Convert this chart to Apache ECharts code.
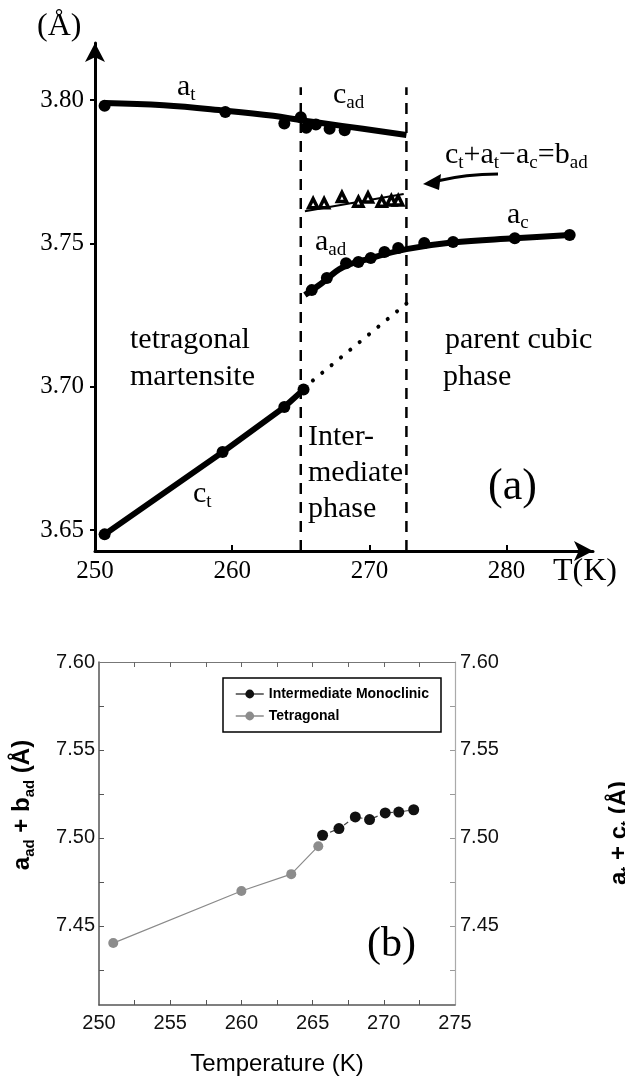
<!DOCTYPE html>
<html>
<head>
<meta charset="utf-8">
<script src="https://cdn.jsdelivr.net/npm/echarts@6/dist/echarts.min.js"></script>
<style>
  html, body { margin: 0; padding: 0; background: #fff; }
  #chart { width: 625px; height: 1087px; }
</style>
</head>
<body>
<div id="chart"></div>
<script>
const SERIF = '"Liberation Serif", "Times New Roman", serif';
const SANS = '"Liberation Sans", Arial, sans-serif';

// ---------- panel (a): lattice parameters vs T ----------
const aTicksX = [250, 260, 270, 280];
const aTicksY = [3.65, 3.70, 3.75, 3.80];

const atT = [250.7, 259.5, 263.8, 265.0];
const atV = [3.798, 3.7958, 3.7918, 3.794];
const cadT = [265.4, 266.1, 267.1, 268.2];
const cadV = [3.7903, 3.7915, 3.790, 3.7895];
const topFitT = [250.7, 255, 259.5, 263, 265, 268, 272.7];
const topFitV = [3.799, 3.7982, 3.7963, 3.7945, 3.793, 3.791, 3.7878];

const badT = [265.9, 266.7, 268.0, 269.2, 269.9, 270.9, 271.6, 272.1];
const badV = [3.764, 3.764, 3.7662, 3.7645, 3.766, 3.7645, 3.765, 3.765];
const badFitT = [265.3, 272.5];
const badFitV = [3.7612, 3.7672];

const aadT = [265.8, 266.9, 268.3, 269.2, 270.1, 271.1, 272.1];
const aadV = [3.7337, 3.7379, 3.7431, 3.7435, 3.7449, 3.747, 3.7484];
const acT = [274.0, 276.1, 280.6, 284.6];
const acV = [3.7501, 3.7505, 3.7518, 3.7529];
const midFitT = [265.3, 266.5, 268, 270, 272.7, 276, 280.6, 284.6];
const midFitV = [3.732, 3.736, 3.7415, 3.7447, 3.748, 3.7503, 3.7518, 3.7529];

const ctT = [250.7, 259.3, 263.8, 265.2];
const ctV = [3.6485, 3.6772, 3.6929, 3.699];
const ctExtT = [265.2, 272.7];
const ctExtV = [3.6995, 3.729];

const phaseT = [265.0, 272.7];
const phaseSpan = [3.6427, 3.8045];

// ---------- panel (b): a_ad + b_ad vs T ----------
const bTicksX = [250, 255, 260, 265, 270, 275];
const bMinorX = [252.5, 255, 257.5, 260, 262.5, 265, 267.5, 270, 272.5];
const bTicksY = [7.45, 7.50, 7.55, 7.60];
const bMinorY = [7.425, 7.45, 7.475, 7.50, 7.525, 7.55, 7.575];

const tetT = [251.0, 260.0, 263.5, 265.4];
const tetV = [7.4402, 7.4698, 7.4794, 7.4953];
const monoT = [265.7, 266.85, 268.0, 269.0, 270.1, 271.05, 272.1];
const monoV = [7.5015, 7.5053, 7.5119, 7.5104, 7.5142, 7.5147, 7.516];

const zip = (xs, ys) => xs.map((x, i) => [x, ys[i]]);

const richA = {
  m: { fontFamily: SERIF, fontSize: 30, lineHeight: 36, verticalAlign: 'middle', fill: '#000' },
  s: { fontFamily: SERIF, fontSize: 19, verticalAlign: 'bottom', fill: '#000' }
};
const richB = {
  m: { fontFamily: SANS, fontWeight: 'bold', fontSize: 24, lineHeight: 30, verticalAlign: 'middle', fill: '#000' },
  s: { fontFamily: SANS, fontWeight: 'bold', fontSize: 15, verticalAlign: 'bottom', fill: '#000' }
};

function txt(x, y, text, size) {
  return {
    type: 'text', x: x, y: y, silent: true,
    style: { text: text, font: size + 'px ' + SERIF, fill: '#000',
             textAlign: 'left', textVerticalAlign: 'middle', align: 'left', verticalAlign: 'middle' }
  };
}
function rtxt(x, y, text, rich, rot) {
  return {
    type: 'text', x: x, y: y, rotation: rot || 0, silent: true,
    style: { text: text, rich: rich, fill: '#000',
             textAlign: rot ? 'center' : 'left', align: rot ? 'center' : 'left',
             textVerticalAlign: 'middle', verticalAlign: 'middle' }
  };
}

const blackDots = (name, data) => ({
  name: name, type: 'scatter', xAxisIndex: 0, yAxisIndex: 0, data: data,
  symbolSize: 12, itemStyle: { color: '#000', opacity: 1 }, z: 4
});
const thick = (data, w) => ({
  type: 'line', xAxisIndex: 0, yAxisIndex: 0, data: data, smooth: 0.4,
  showSymbol: false, lineStyle: { color: '#000', width: w || 6 }, z: 3
});

const chart = echarts.init(document.getElementById('chart'), null, { renderer: 'canvas' });

chart.setOption({
  animation: false,
  backgroundColor: '#fff',
  grid: [
    { left: 95, right: 32, top: 43, height: 508 },
    { left: 99, right: 170, top: 662, height: 343 }
  ],
  xAxis: [
    {
      type: 'value', gridIndex: 0, min: 250, max: 286.3,
      axisLine: { show: true, symbol: ['none', 'arrow'], symbolSize: [15, 19], lineStyle: { color: '#000', width: 3 } },
      axisTick: { show: true, inside: true, length: 6, lineStyle: { color: '#000', width: 2 }, customValues: aTicksX.slice(1) },
      axisLabel: { customValues: aTicksX, fontFamily: SERIF, fontSize: 25, color: '#000', margin: 8 },
      splitLine: { show: false }
    },
    {
      type: 'value', gridIndex: 1, min: 250, max: 275, position: 'bottom',
      name: 'Temperature (K)', nameLocation: 'middle', nameGap: 47,
      nameTextStyle: { fontFamily: SANS, fontSize: 24, color: '#000' },
      axisLine: { show: true, lineStyle: { color: '#555', width: 1.5 } },
      axisTick: { show: true, inside: true, length: 5, lineStyle: { color: '#555' }, customValues: bMinorX },
      axisLabel: { customValues: bTicksX, fontFamily: SANS, fontSize: 20, color: '#111', margin: 8 },
      splitLine: { show: false }
    },
    {
      type: 'value', gridIndex: 1, min: 250, max: 275, position: 'top',
      axisLine: { show: true, lineStyle: { color: '#777', width: 1.2 } },
      axisTick: { show: true, inside: true, length: 5, lineStyle: { color: '#666' }, customValues: bMinorX },
      axisLabel: { show: false },
      splitLine: { show: false }
    }
  ],
  yAxis: [
    {
      type: 'value', gridIndex: 0, min: 3.6427, max: 3.8199,
      axisLine: { show: true, symbol: ['none', 'arrow'], symbolSize: [15, 19], lineStyle: { color: '#000', width: 3 } },
      axisTick: { show: true, length: 5, lineStyle: { color: '#000', width: 2 }, customValues: aTicksY },
      axisLabel: { customValues: aTicksY, formatter: v => v.toFixed(2), fontFamily: SERIF, fontSize: 25, color: '#000', margin: 11 },
      splitLine: { show: false }
    },
    {
      type: 'value', gridIndex: 1, min: 7.405, max: 7.60, position: 'left',
      axisLine: { show: true, lineStyle: { color: '#555', width: 1.5 } },
      axisTick: { show: true, inside: true, length: 5, lineStyle: { color: '#555' }, customValues: bMinorY },
      axisLabel: { customValues: bTicksY, formatter: v => v.toFixed(2), fontFamily: SANS, fontSize: 20, color: '#111', margin: 4 },
      splitLine: { show: false }
    },
    {
      type: 'value', gridIndex: 1, min: 7.405, max: 7.60, position: 'right',
      axisLine: { show: true, lineStyle: { color: '#aaa', width: 1.2 } },
      axisTick: { show: true, inside: true, length: 5, lineStyle: { color: '#999' }, customValues: bMinorY },
      axisLabel: { customValues: bTicksY, formatter: v => v.toFixed(2), fontFamily: SANS, fontSize: 20, color: '#111', margin: 5 },
      splitLine: { show: false }
    }
  ],
  legend: {
    data: ['Intermediate Monoclinic', 'Tetragonal'],
    orient: 'vertical', left: 223, top: 678,
    padding: [9, 12, 9, 12], itemGap: 8, itemWidth: 28, itemHeight: 11,
    borderColor: '#000', borderWidth: 1.5, backgroundColor: '#fff',
    lineStyle: { type: 'solid', width: 1.5 },
    textStyle: { fontFamily: SANS, fontWeight: 'bold', fontSize: 14, color: '#000' }
  },
  series: [
    // panel (a)
    thick(zip(topFitT, topFitV)),
    blackDots('a_t', zip(atT, atV)),
    blackDots('c_ad', zip(cadT, cadV)),
    thick(zip(badFitT, badFitV), 2),
    {
      name: 'b_ad', type: 'scatter', xAxisIndex: 0, yAxisIndex: 0, data: zip(badT, badV),
      symbol: 'triangle', symbolSize: 9,
      itemStyle: { color: '#fff', borderColor: '#000', borderWidth: 3.5, opacity: 1 }, z: 5
    },
    thick(zip(midFitT, midFitV)),
    blackDots('a_ad', zip(aadT, aadV)),
    blackDots('a_c', zip(acT, acV)),
    {
      type: 'line', xAxisIndex: 0, yAxisIndex: 0, data: zip(ctT, ctV),
      symbol: 'circle', symbolSize: 12, itemStyle: { color: '#000' },
      lineStyle: { color: '#000', width: 6 }, z: 3
    },
    {
      type: 'line', xAxisIndex: 0, yAxisIndex: 0, data: zip(ctExtT, ctExtV), showSymbol: false,
      lineStyle: { color: '#000', width: 4, type: [0.1, 12], cap: 'round' }
    },
    ...phaseT.map(t => ({
      type: 'line', xAxisIndex: 0, yAxisIndex: 0, showSymbol: false,
      data: phaseSpan.map(v => [t, v]),
      lineStyle: { color: '#000', width: 2.5, type: [11, 8] }
    })),
    // panel (b)
    {
      name: 'Tetragonal', type: 'line', xAxisIndex: 1, yAxisIndex: 1, data: zip(tetT, tetV),
      symbol: 'circle', symbolSize: 10,
      itemStyle: { color: '#8c8c8c' }, lineStyle: { color: '#8a8a8a', width: 1.2 }
    },
    {
      name: 'Intermediate Monoclinic', type: 'line', xAxisIndex: 1, yAxisIndex: 1, data: zip(monoT, monoV),
      symbol: 'circle', symbolSize: 11,
      itemStyle: { color: '#111' }, lineStyle: { color: '#444', width: 1.2, type: [5, 3] }
    }
  ],
  graphic: [
    // panel (a) annotations
    txt(37, 27, '(Å)', 32),
    rtxt(177, 87, '{m|a}{s|t}', richA),
    rtxt(333, 95, '{m|c}{s|ad}', richA),
    rtxt(445, 155, '{m|c}{s|t}{m|+a}{s|t}{m|−a}{s|c}{m|=b}{s|ad}', richA),
    rtxt(315, 242, '{m|a}{s|ad}', richA),
    rtxt(507, 215, '{m|a}{s|c}', richA),
    rtxt(193, 494, '{m|c}{s|t}', richA),
    txt(130, 340, 'tetragonal', 30),
    txt(130, 377, 'martensite', 30),
    txt(445, 340, 'parent cubic', 30),
    txt(443, 377, 'phase', 30),
    txt(308, 437, 'Inter-', 30),
    txt(308, 473, 'mediate', 30),
    txt(308, 509, 'phase', 30),
    txt(488, 487, '(a)', 44),
    txt(553, 572, 'T(K)', 32),
    {
      type: 'bezierCurve', silent: true,
      shape: { x1: 498, y1: 174, cpx1: 466, cpy1: 174, x2: 437, y2: 181 },
      style: { stroke: '#000', lineWidth: 3, fill: null }
    },
    {
      type: 'polygon', silent: true,
      shape: { points: [[423, 184], [441, 174], [439, 190]] },
      style: { fill: '#000' }
    },
    // panel (b) annotations
    txt(367, 945, '(b)', 42),
    rtxt(22, 805, '{m|a}{s|ad}{m| + b}{s|ad}{m| (Å)}', richB, Math.PI / 2),
    rtxt(619, 833, '{m|a}{s|t}{m| + c}{s|t}{m| (Å)}', richB, Math.PI / 2)
  ]
});
</script>
</body>
</html>
